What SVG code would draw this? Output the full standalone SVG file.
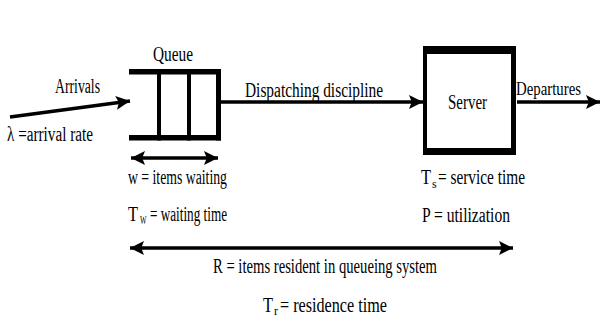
<svg xmlns="http://www.w3.org/2000/svg" width="602" height="322" viewBox="0 0 602 322">
<style>
text{font-family:"Liberation Serif","Times New Roman",serif;font-size:20px;fill:#000}
text.sub{font-size:12px}
.ln{stroke:#000;stroke-width:3.5;fill:none}
.bar{fill:#000}
</style>
<defs>
<marker id="ah" viewBox="0 0 10 10" refX="10" refY="5" markerWidth="4" markerHeight="4" orient="auto-start-reverse" markerUnits="strokeWidth">
<path d="M0,0 L10,5 L0,10 L2,5 Z" fill="#000"/>
</marker>
</defs>
<rect width="602" height="322" fill="#fff"/>
<g id="connectors">
<line class="ln" x1="10" y1="117" x2="130" y2="101" marker-end="url(#ah)"/>
<line class="ln" x1="221" y1="102" x2="423" y2="102" marker-end="url(#ah)"/>
<line class="ln" x1="517" y1="102" x2="600" y2="102" marker-end="url(#ah)"/>
<line class="ln" x1="131" y1="158" x2="218" y2="158" marker-start="url(#ah)" marker-end="url(#ah)"/>
<line class="ln" x1="130" y1="248" x2="513" y2="248" marker-start="url(#ah)" marker-end="url(#ah)"/>
</g>
<g id="queue">
<rect class="bar" x="129" y="69" width="92" height="5.5"/>
<rect class="bar" x="129" y="135" width="92" height="5.5"/>
<rect class="bar" x="216" y="69" width="5" height="71.5"/>
<rect class="bar" x="157" y="69" width="4" height="71.5"/>
<rect class="bar" x="187" y="69" width="4" height="71.5"/>
<text x="153" y="61" textLength="40" lengthAdjust="spacingAndGlyphs">Queue</text>
</g>
<g id="server">
<rect x="425" y="50" width="89" height="101" fill="none" stroke="#000" stroke-width="4"/>
<rect class="bar" x="423" y="46" width="93" height="8"/>
<rect class="bar" x="423" y="148" width="93" height="7"/>
<rect class="bar" x="511" y="46" width="5" height="109"/>
<text x="448" y="109" textLength="39" lengthAdjust="spacingAndGlyphs">Server</text>
</g>
<g id="labels">
<text x="55" y="93" textLength="45" lengthAdjust="spacingAndGlyphs">Arrivals</text>
<text x="7" y="141" textLength="86" lengthAdjust="spacingAndGlyphs">λ =arrival rate</text>
<text x="245" y="97" textLength="138" lengthAdjust="spacingAndGlyphs">Dispatching discipline</text>
<text x="516" y="95" font-size="19" textLength="65" lengthAdjust="spacingAndGlyphs" style="font-size:19px">Departures</text>
<text x="128" y="184" textLength="99" lengthAdjust="spacingAndGlyphs">w = items waiting</text>
<text x="128" y="221" textLength="10" lengthAdjust="spacingAndGlyphs">T</text>
<text class="sub" x="140" y="224" textLength="6.5" lengthAdjust="spacingAndGlyphs">W</text>
<text x="150" y="221" textLength="77" lengthAdjust="spacingAndGlyphs">= waiting time</text>
<text x="421" y="184" textLength="10" lengthAdjust="spacingAndGlyphs">T</text>
<text class="sub" x="432" y="188">s</text>
<text x="438" y="184" textLength="87" lengthAdjust="spacingAndGlyphs">= service time</text>
<text x="422" y="222" textLength="88" lengthAdjust="spacingAndGlyphs">P = utilization</text>
<text x="213" y="273" textLength="224" lengthAdjust="spacingAndGlyphs">R = items resident in queueing system</text>
<text x="263" y="312" textLength="10" lengthAdjust="spacingAndGlyphs">T</text>
<text class="sub" x="274" y="315">r</text>
<text x="280" y="312" textLength="107" lengthAdjust="spacingAndGlyphs">= residence time</text>
</g>
</svg>
